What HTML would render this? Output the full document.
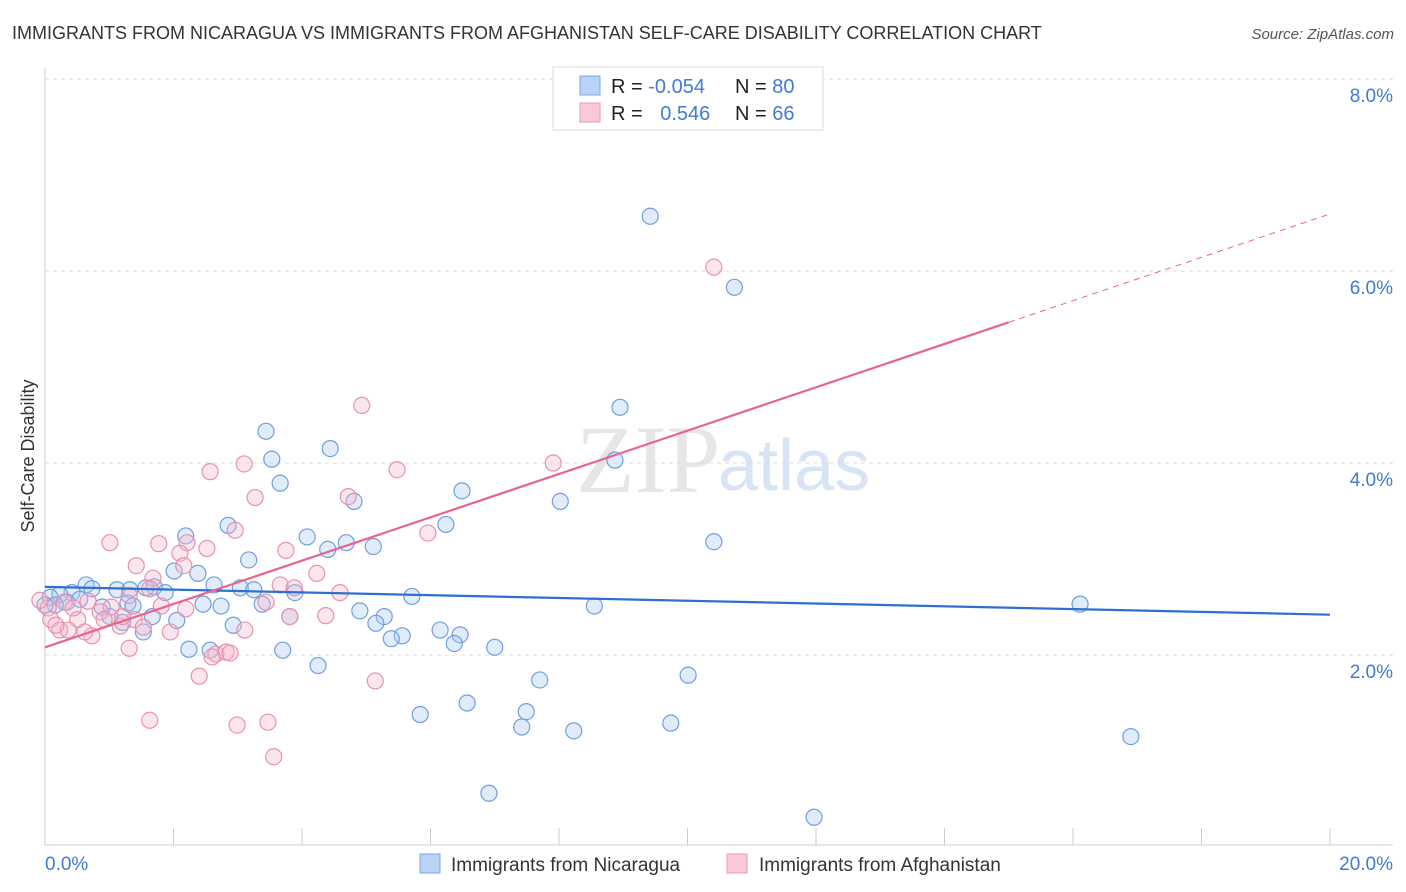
<!DOCTYPE html>
<html><head><meta charset="utf-8"><style>
body{margin:0;background:#fff;font-family:"Liberation Sans",sans-serif;}
svg{display:block}
</style></head><body>
<svg id="c" width="1406" height="892" viewBox="0 0 1406 892">
<text x="12" y="39" font-size="18" fill="#333">IMMIGRANTS FROM NICARAGUA VS IMMIGRANTS FROM AFGHANISTAN SELF-CARE DISABILITY CORRELATION CHART</text>
<text x="1394" y="39" font-size="15" fill="#555" font-style="italic" text-anchor="end">Source: ZipAtlas.com</text>
<text x="720" y="492" font-size="96" fill="#e6e6e6" font-family="Liberation Serif" text-anchor="end">ZIP</text>
<text x="718" y="490" font-size="72" fill="#d7e4f5">atlas</text>
<text transform="translate(34,456) rotate(-90)" font-size="18" fill="#333" text-anchor="middle">Self-Care Disability</text>
<g id="grid"></g><g id="pts"></g><g id="lines"></g>
<g>
<rect x="553" y="67" width="270" height="63" fill="#fff" stroke="#ddd"/>
<rect x="580" y="76" width="20" height="19" fill="#b8d3f5" stroke="#7aa7e6"/>
<rect x="580" y="103" width="20" height="19" fill="#fbc8d8" stroke="#ec9ab5"/>
<text x="611" y="93" font-size="20" fill="#222">R = <tspan fill="#3f7bd6">-0.054</tspan></text>
<text x="735" y="93" font-size="20" fill="#222">N = <tspan fill="#3f7bd6">80</tspan></text>
<text x="611" y="120" font-size="20" fill="#222">R = <tspan fill="#3f7bd6" dx="12">0.546</tspan></text>
<text x="735" y="120" font-size="20" fill="#222">N = <tspan fill="#3f7bd6">66</tspan></text>
</g>
<g>
<rect x="420" y="854" width="20" height="19" fill="#b8d3f5" stroke="#7aa7e6"/>
<text x="451" y="871" font-size="19" fill="#333">Immigrants from Nicaragua</text>
<rect x="727" y="854" width="20" height="19" fill="#fbc8d8" stroke="#ec9ab5"/>
<text x="759" y="871" font-size="19" fill="#333">Immigrants from Afghanistan</text>
</g>
<text x="45" y="870" font-size="19" fill="#3f7bd6">0.0%</text>
<text x="1393" y="870" font-size="19" fill="#3f7bd6" text-anchor="end">20.0%</text>
</svg>
<script>
const yTicks=[2,4,6,8];
const yTickLabels=["2.0%","4.0%","6.0%","8.0%"];
const xTicks=[0,2,4,6,8,10,12,14,16,18,20];
const blueX=[9.42,10.73,8.95,3.44,4.44,3.53,3.66,6.49,4.81,8.02,8.87,6.24,2.85,2.19,4.08,4.69,5.11,4.4,10.41,3.17,2.01,2.38,0.64,0.73,1.12,1.32,1.7,1.57,2.63,3.04,3.25,1.87,0.42,0.23,0.08,0.34,0.89,1.29,1.37,2.46,2.74,3.38,3.89,5.71,8.55,16.11,4.9,5.28,5.15,3.81,2.05,1.67,1.53,2.93,1.21,1.01,6.15,6.46,5.56,5.39,6.37,7.0,2.24,2.57,3.7,4.25,7.7,10.01,6.57,5.84,7.49,7.42,8.23,9.74,16.9,6.91,11.97,0.16,0,0.54];
const blueY=[6.57,5.83,4.58,4.33,4.15,4.04,3.79,3.71,3.6,3.6,4.03,3.36,3.35,3.24,3.23,3.17,3.13,3.1,3.18,2.99,2.875,2.85,2.73,2.69,2.68,2.68,2.71,2.7,2.73,2.7,2.68,2.65,2.65,2.63,2.6,2.55,2.5,2.54,2.51,2.53,2.51,2.53,2.65,2.61,2.51,2.53,2.46,2.4,2.33,2.4,2.36,2.4,2.24,2.31,2.34,2.4,2.26,2.21,2.2,2.17,2.12,2.08,2.06,2.05,2.05,1.89,1.74,1.79,1.5,1.38,1.41,1.25,1.21,1.29,1.15,0.56,0.31,2.52,2.52,2.58];
const pinkX=[10.41,4.93,7.91,5.48,3.1,2.57,4.72,3.27,2.96,5.96,1.01,1.77,2.21,2.52,2.1,3.75,2.16,1.42,4.23,1.68,3.66,3.88,4.59,1.31,0.67,0.3,1.03,1.81,2.19,3.44,0.05,0.86,0.09,0.51,0.92,1.39,1.53,3.81,4.37,1.17,1.95,3.11,0.23,0.36,0.73,0.62,0.17,1.31,2.66,2.82,2.88,2.6,2.4,5.14,1.63,2.99,3.47,3.56,1.21,1.63,0.44,-0.08];
const pinkY=[6.04,4.6,4.0,3.93,3.99,3.91,3.65,3.64,3.3,3.27,3.17,3.16,3.17,3.11,3.06,3.09,2.93,2.93,2.85,2.8,2.73,2.7,2.65,2.62,2.56,2.55,2.5,2.51,2.48,2.55,2.49,2.45,2.37,2.37,2.37,2.37,2.29,2.4,2.41,2.3,2.24,2.26,2.26,2.26,2.2,2.24,2.31,2.07,2.01,2.03,2.02,1.98,1.78,1.73,1.32,1.27,1.3,0.94,2.4,2.69,2.49,2.57];
const trendBlue=[2.71,2.42];
const trendPink=[2.08,0.2257];
const X=v=>45+v*64.25, Y=v=>847-v*96;
const NS="http://www.w3.org/2000/svg";
function mk(tag,attrs,parent){const e=document.createElementNS(NS,tag);for(const k in attrs)e.setAttribute(k,attrs[k]);parent.appendChild(e);return e;}
const grid=document.getElementById('grid');
yTicks.forEach((t,i)=>{
 const l=mk('line',{x1:45,x2:1393,y1:Y(t),y2:Y(t),stroke:'#ddd','stroke-dasharray':'4,4'},grid);
 
 
 const tx=mk('text',{x:1393,y:Y(t)+23,'font-size':19,fill:'#3f7bd6','text-anchor':'end'},grid);
 tx.textContent=yTickLabels[i];
 
 
});
mk('line',{x1:45,x2:45,y1:68,y2:845,stroke:'#ccc'},grid);
mk('line',{x1:45,x2:1393,y1:845,y2:845,stroke:'#ccc'},grid);
xTicks.forEach(t=>{
 const l=mk('line',{x1:X(t),x2:X(t),y1:828,y2:845,stroke:'#ccc'},grid);
 
 
});
const pts=document.getElementById('pts');
function dots(xs,ys,fill,stroke,name){xs.forEach((x,i)=>{
 const c=mk('circle',{cx:X(x),cy:Y(ys[i]),r:8,fill:fill,'fill-opacity':0.35,stroke:stroke,'stroke-width':1.2},pts);
 
 
});}
dots(blueX,blueY,'#a9c8f0','#6f9ee0','nicaragua-point');
dots(pinkX,pinkY,'#f5b8cc','#e891ad','afghanistan-point');
const lines=document.getElementById('lines');
const bl=mk('line',{x1:X(0),y1:Y(trendBlue[0]),x2:X(20),y2:Y(trendBlue[1]),stroke:'#2f6fd0','stroke-width':2.2},lines);


const pl=mk('line',{x1:X(0),y1:Y(trendPink[0]),x2:X(15),y2:Y(trendPink[0]+15*trendPink[1]),stroke:'#e8648f','stroke-width':2.2},lines);


const pd=mk('line',{x1:X(15),y1:Y(trendPink[0]+15*trendPink[1]),x2:X(20),y2:Y(trendPink[0]+20*trendPink[1]),stroke:'#e8648f','stroke-width':1,'stroke-dasharray':'6,5'},lines);


</script>
</body></html>
